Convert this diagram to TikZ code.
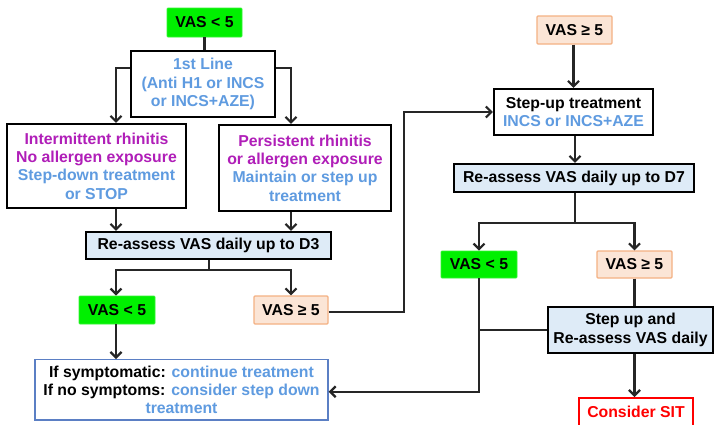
\documentclass[tikz,border=0pt]{standalone}
\usepackage{fontspec}
\setmainfont{Liberation Sans}
\usetikzlibrary{arrows.meta}
\definecolor{vpurple}{HTML}{B01EB8}
\definecolor{vblue}{HTML}{5F9BE0}
\definecolor{lblue}{HTML}{DEEBF7}
\definecolor{peach}{HTML}{FBE5D6}
\definecolor{peachb}{HTML}{F4B183}
\definecolor{vgreen}{HTML}{00F000}
\definecolor{bborder}{HTML}{5B7FC4}
\tikzset{
  every node/.style={font=\fontsize{15.8}{18.3}\selectfont\bfseries, align=center, inner sep=0pt},
  bx/.style={draw=black, line width=2.2pt, fill=white},
  greenbox/.style={fill=vgreen, draw=vgreen!80!white, line width=0.8pt, rounded corners=1pt},
  peachbox/.style={fill=peach, draw=peachb, line width=1.2pt, rounded corners=1pt},
  bluebox/.style={draw=black, line width=2.2pt, fill=lblue},
  conn/.style={line width=2.3pt, draw=black!85},
  arr/.style={conn, -{Straight Barb[length=5.5pt,width=11pt,line width=2.2pt]}},
}
\newcommand{\pu}[1]{\textcolor{vpurple}{#1}}
\newcommand{\bl}[1]{\textcolor{vblue}{#1}}
\begin{document}
\begin{tikzpicture}[x=1pt,y=-1pt]
\clip (0,0) rectangle (715,424);
\fill[white] (0,0) rectangle (715,424);

% left column
\node[greenbox, minimum width=75pt, minimum height=29pt] (top1) at (204.5,22.5) {VAS < 5};
\node[bx, minimum width=144pt, minimum height=66pt] (first) at (203,84)
  {\bl{1st Line}\\\bl{(Anti H1 or INCS}\\\bl{or INCS+AZE)}};
\node[bx, minimum width=179pt, minimum height=84pt] (inter) at (96.5,166)
  {\pu{Intermittent rhinitis}\\\pu{No allergen exposure}\\\bl{Step-down treatment}\\\bl{or STOP}};
\node[bx, minimum width=172pt, minimum height=86pt] (pers) at (305,168)
  {\pu{Persistent rhinitis}\\\pu{or allergen exposure}\\\bl{Maintain or step up}\\\bl{treatment}};
\node[bluebox, minimum width=245pt, minimum height=27pt] (d3) at (208.5,245.5) {Re-assess VAS daily up to D3};
\node[greenbox, minimum width=76pt, minimum height=28pt] (g2) at (117,310) {VAS < 5};
\node[peachbox, minimum width=74pt, minimum height=28pt] (p2) at (291,310) {VAS ≥ 5};
\node[draw=bborder, line width=1.3pt, fill=white, minimum width=293pt, inner ysep=6pt, anchor=north] (bot) at (181.5,359)
  {If symptomatic: \bl{continue treatment}\\If no symptoms: \bl{consider step down}\\\bl{treatment}};

% right column
\node[peachbox, minimum width=75pt, minimum height=28pt] (p1) at (574.5,30) {VAS ≥ 5};
\node[bx, minimum width=159pt, minimum height=46pt] (stepup) at (573.5,112) {Step-up treatment\\\bl{INCS or INCS+AZE}};
\node[bluebox, minimum width=240pt, minimum height=28pt] (d7) at (574,178) {Re-assess VAS daily up to D7};
\node[greenbox, minimum width=76pt, minimum height=27pt] (g3) at (479,264.5) {VAS < 5};
\node[peachbox, minimum width=75pt, minimum height=27pt] (p3) at (634.5,264.5) {VAS ≥ 5};
\node[bluebox, minimum width=165pt, minimum height=46pt] (sup2) at (630.5,330) {Step up and\\Re-assess VAS daily};
\node[draw=red, line width=2.2pt, fill=white, text=red, minimum width=114pt, inner ysep=8pt, anchor=north] (sit) at (636,397) {Consider SIT};

\coordinate (xl) at (116,0);
\coordinate (xr) at (291,0);
\coordinate (s1) at (209,270);
\coordinate (c1) at (404,0);
\coordinate (s2) at (575,223);

% connectors left
\draw[conn] (top1.south) -- (top1.south |- first.north);
\draw[arr] ([yshift=16pt]first.west) -| (inter.north -| xl);
\draw[arr] ([yshift=16pt]first.east) -| (pers.north -| xr);
\draw[arr] (inter.south -| xl) -- (d3.north -| xl);
\draw[arr] (pers.south -| xr) -- (d3.north -| xr);
\draw[conn] (d3.south -| s1) -- (s1);
\draw[arr] (s1) -| (g2.north -| xl);
\draw[arr] (s1) -| (p2.north -| xr);
\draw[arr] (g2.south -| xl) -- (bot.north -| xl);
\draw[arr] ([yshift=-2pt]p2.east) -- ([yshift=-2pt]p2.east -| c1) |- (stepup.west);

% connectors right
\draw[arr] (p1.south -| stepup.north) -- (stepup.north);
\draw[arr] (stepup.south -| s2) -- (d7.north -| s2);
\draw[conn] (d7.south -| s2) -- (s2);
\draw[arr] (s2) -| (g3.north);
\draw[arr] (s2) -| (p3.north);
\draw[conn] (p3.south) -- (p3.south |- sup2.north);
\draw[conn] (sup2.west) -- (sup2.west -| g3.south);
\draw[arr] (g3.south) |- ([yshift=-2pt]bot.east);
\draw[arr] (sup2.south -| p3.south) -- (sit.north -| p3.south);
\end{tikzpicture}
\end{document}
